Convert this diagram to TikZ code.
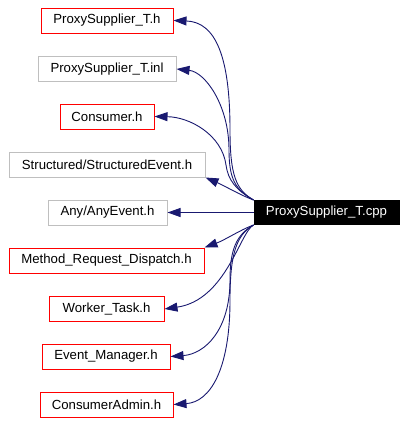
\documentclass[tikz,border=0pt]{standalone}
\usepackage{fontspec}
\setmainfont{Liberation Sans}
\usetikzlibrary{arrows.meta}
\definecolor{edgeblue}{HTML}{191970}
\definecolor{boxgray}{HTML}{BFBFBF}
\definecolor{boxred}{HTML}{FF0000}
\tikzset{
  filebox/.style={draw, line width=1pt, minimum height=25pt, inner sep=0pt, fill=white,
    font=\fontsize{13.2}{15}\selectfont, text=black},
  redbox/.style={filebox, draw=boxred},
  graybox/.style={filebox, draw=boxgray},
  mainbox/.style={filebox, draw=black, fill=black, text=white},
  dep/.style={draw=edgeblue, line width=0.9pt, -{Triangle[length=13pt,width=9pt]}, fill=none}
}
\begin{document}
\begin{tikzpicture}[x=1pt,y=-1pt]
\useasboundingbox (0,0) rectangle (407,423);
\node[redbox, minimum width=132pt] (psh) at (107,20.5) {ProxySupplier\_T.h};
\node[graybox, minimum width=138pt] (psinl) at (107,69) {ProxySupplier\_T.inl};
\node[redbox, minimum width=94pt] (cons) at (107,116.5) {Consumer.h};
\node[graybox, minimum width=196pt] (sev) at (107,164.5) {Structured/StructuredEvent.h};
\node[graybox, minimum width=119pt] (aev) at (107.5,212.5) {Any/AnyEvent.h};
\node[mainbox, minimum width=145pt, minimum height=24pt] (cpp) at (326.5,212.5) {ProxySupplier\_T.cpp};
\node[redbox, minimum width=195pt] (mrd) at (106.5,260.5) {Method\_Request\_Dispatch.h};
\node[redbox, minimum width=115pt] (wt) at (106.5,309) {Worker\_Task.h};
\node[redbox, minimum width=128pt] (em) at (106,356.5) {Event\_Manager.h};
\node[redbox, minimum width=133pt] (ca) at (106.5,404.5) {ConsumerAdmin.h};

\draw[dep] (cpp.north west) .. controls (236,190) and (230,175) .. (230,130)
  .. controls (230,55) and (215,22) .. (psh.east);
\draw[dep] (cpp.north west) .. controls (236,190) and (229,180) .. (229,150)
  .. controls (229,105) and (205,72) .. (psinl.east);
\draw[dep] (cpp.north west) .. controls (236,190) and (228,180) .. (226,165)
  .. controls (222,135) and (190,117) .. (cons.east);
\draw[dep] (cpp.north west) .. controls (240,195) and (225,186) .. (sev.south east);
\draw[dep] (cpp) -- (aev);
\draw[dep] (cpp.south west) .. controls (240,230) and (225,240) .. (mrd.north east);
\draw[dep] (cpp.south west) .. controls (240,232) and (226,300) .. (wt.east);
\draw[dep] (cpp.south west) .. controls (236,235) and (230,250) .. (230,280)
  .. controls (230,330) and (205,354) .. (em.east);
\draw[dep] (cpp.south west) .. controls (236,235) and (230,255) .. (230,300)
  .. controls (230,370) and (210,402) .. (ca.east);
\end{tikzpicture}
\end{document}
